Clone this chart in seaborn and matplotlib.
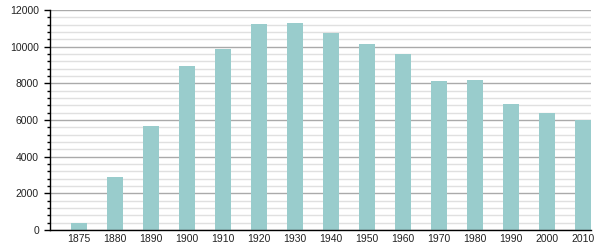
import matplotlib
matplotlib.use("Agg")
import matplotlib.pyplot as plt
from matplotlib.ticker import MultipleLocator
import seaborn as sns
import pandas as pd

years = ["1875", "1880", "1890", "1900", "1910", "1920", "1930", "1940",
         "1950", "1960", "1970", "1980", "1990", "2000", "2010"]
population = [400, 2890, 5670, 8950, 9870, 11240, 11290, 10750,
              10150, 9600, 8130, 8180, 6870, 6380, 5980]

df = pd.DataFrame({"year": years, "population": population})

sns.set_style("white")
plt.rcParams["font.family"] = ["Liberation Sans", "DejaVu Sans"]

fig = plt.figure(figsize=(6, 2.5), dpi=100)
ax = fig.add_axes([50 / 600, 20 / 250, 541 / 600, 220 / 250])

sns.barplot(data=df, x="year", y="population", order=years, color="#99cccc",
            saturation=1, width=0.444, ax=ax, edgecolor="none", linewidth=0)

ax.set_xlim(-0.806, 14.222)
ax.set_ylim(0, 12000)
ax.yaxis.set_major_locator(MultipleLocator(2000))
ax.yaxis.set_minor_locator(MultipleLocator(400))
ax.set_axisbelow(True)
ax.grid(which="major", axis="y", color="#aaaaaa", linewidth=1)
ax.grid(which="minor", axis="y", color="#e0e0e0", linewidth=1)
ax.grid(which="major", axis="x", visible=False)

for s in ["top", "right"]:
    ax.spines[s].set_visible(False)
for s in ["left", "bottom"]:
    ax.spines[s].set_visible(True)
    ax.spines[s].set_color("black")
    ax.spines[s].set_linewidth(1)

ax.tick_params(axis="y", which="major", direction="out", length=4, width=1,
               color="black", labelsize=7.5, pad=4, left=True, labelcolor="#222222")
ax.tick_params(axis="y", which="minor", direction="out", length=2, width=1,
               color="black", left=True)
ax.tick_params(axis="x", which="both", length=0, labelsize=7.5, pad=3,
               labelcolor="#222222")
ax.set_xlabel("")
ax.set_ylabel("")

fig.savefig("out.png", dpi=100)
